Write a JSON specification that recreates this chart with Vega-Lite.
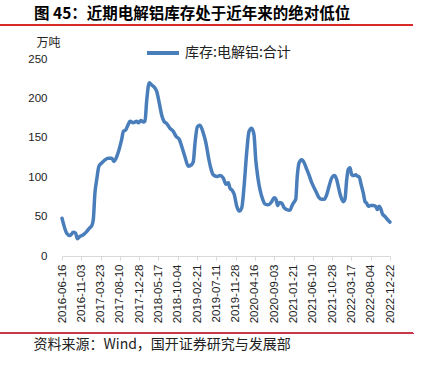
{
  "$schema": "https://vega.github.io/schema/vega-lite/v6.json",
  "autosize": "none",
  "width": 328,
  "height": 197,
  "padding": {"left": 62, "top": 59, "right": 32, "bottom": 111},
  "background": "white",
  "title": {
    "text": "图 45：近期电解铝库存处于近年来的绝对低位",
    "anchor": "start",
    "frame": "group",
    "dx": -28,
    "offset": 2,
    "font": "Noto Sans CJK SC",
    "fontSize": 15.5,
    "fontWeight": "bold",
    "color": "#000000"
  },
  "data": {
    "values": [
      {"date": "2016-06-16", "value": 48, "series": "库存:电解铝:合计"},
      {"date": "2016-07-20", "value": 29, "series": "库存:电解铝:合计"},
      {"date": "2016-08-13", "value": 26, "series": "库存:电解铝:合计"},
      {"date": "2016-09-06", "value": 30, "series": "库存:电解铝:合计"},
      {"date": "2016-09-23", "value": 29, "series": "库存:电解铝:合计"},
      {"date": "2016-10-05", "value": 22, "series": "库存:电解铝:合计"},
      {"date": "2016-10-25", "value": 25, "series": "库存:电解铝:合计"},
      {"date": "2016-11-18", "value": 27, "series": "库存:电解铝:合计"},
      {"date": "2016-12-12", "value": 31, "series": "库存:电解铝:合计"},
      {"date": "2017-01-05", "value": 36, "series": "库存:电解铝:合计"},
      {"date": "2017-01-17", "value": 38, "series": "库存:电解铝:合计"},
      {"date": "2017-01-29", "value": 46, "series": "库存:电解铝:合计"},
      {"date": "2017-02-10", "value": 80, "series": "库存:电解铝:合计"},
      {"date": "2017-02-23", "value": 97, "series": "库存:电解铝:合计"},
      {"date": "2017-03-11", "value": 114, "series": "库存:电解铝:合计"},
      {"date": "2017-03-31", "value": 118, "series": "库存:电解铝:合计"},
      {"date": "2017-04-24", "value": 122, "series": "库存:电解铝:合计"},
      {"date": "2017-05-18", "value": 124, "series": "库存:电解铝:合计"},
      {"date": "2017-06-12", "value": 124, "series": "库存:电解铝:合计"},
      {"date": "2017-06-28", "value": 120, "series": "库存:电解铝:合计"},
      {"date": "2017-07-18", "value": 126, "series": "库存:电解铝:合计"},
      {"date": "2017-08-04", "value": 135, "series": "库存:电解铝:合计"},
      {"date": "2017-08-23", "value": 148, "series": "库存:电解铝:合计"},
      {"date": "2017-09-04", "value": 158, "series": "库存:电解铝:合计"},
      {"date": "2017-09-21", "value": 160, "series": "库存:电解铝:合计"},
      {"date": "2017-10-10", "value": 167, "series": "库存:电解铝:合计"},
      {"date": "2017-10-22", "value": 171, "series": "库存:电解铝:合计"},
      {"date": "2017-11-15", "value": 169, "series": "库存:电解铝:合计"},
      {"date": "2017-12-10", "value": 171, "series": "库存:电解铝:合计"},
      {"date": "2017-12-22", "value": 169, "series": "库存:电解铝:合计"},
      {"date": "2018-01-10", "value": 172, "series": "库存:电解铝:合计"},
      {"date": "2018-01-27", "value": 170, "series": "库存:电解铝:合计"},
      {"date": "2018-02-08", "value": 171, "series": "库存:电解铝:合计"},
      {"date": "2018-02-21", "value": 198, "series": "库存:电解铝:合计"},
      {"date": "2018-03-11", "value": 220, "series": "库存:电解铝:合计"},
      {"date": "2018-03-29", "value": 217, "series": "库存:电解铝:合计"},
      {"date": "2018-04-22", "value": 213, "series": "库存:电解铝:合计"},
      {"date": "2018-05-04", "value": 209, "series": "库存:电解铝:合计"},
      {"date": "2018-05-23", "value": 194, "series": "库存:电解铝:合计"},
      {"date": "2018-06-09", "value": 179, "series": "库存:电解铝:合计"},
      {"date": "2018-06-26", "value": 171, "series": "库存:电解铝:合计"},
      {"date": "2018-07-16", "value": 168, "series": "库存:电解铝:合计"},
      {"date": "2018-08-09", "value": 162, "series": "库存:电解铝:合计"},
      {"date": "2018-09-02", "value": 158, "series": "库存:电解铝:合计"},
      {"date": "2018-09-21", "value": 152, "series": "库存:电解铝:合计"},
      {"date": "2018-10-15", "value": 148, "series": "库存:电解铝:合计"},
      {"date": "2018-11-02", "value": 139, "series": "库存:电解铝:合计"},
      {"date": "2018-11-25", "value": 126, "series": "库存:电解铝:合计"},
      {"date": "2018-12-19", "value": 114, "series": "库存:电解铝:合计"},
      {"date": "2019-01-13", "value": 116, "series": "库存:电解铝:合计"},
      {"date": "2019-01-25", "value": 120, "series": "库存:电解铝:合计"},
      {"date": "2019-02-06", "value": 143, "series": "库存:电解铝:合计"},
      {"date": "2019-02-23", "value": 164, "series": "库存:电解铝:合计"},
      {"date": "2019-03-14", "value": 166, "series": "库存:电解铝:合计"},
      {"date": "2019-04-07", "value": 156, "series": "库存:电解铝:合计"},
      {"date": "2019-04-27", "value": 143, "series": "库存:电解铝:合计"},
      {"date": "2019-05-14", "value": 126, "series": "库存:电解铝:合计"},
      {"date": "2019-05-31", "value": 112, "series": "库存:电解铝:合计"},
      {"date": "2019-06-19", "value": 103, "series": "库存:电解铝:合计"},
      {"date": "2019-07-14", "value": 101, "series": "库存:电解铝:合计"},
      {"date": "2019-08-06", "value": 102, "series": "库存:电解铝:合计"},
      {"date": "2019-08-30", "value": 99, "series": "库存:电解铝:合计"},
      {"date": "2019-09-19", "value": 91, "series": "库存:电解铝:合计"},
      {"date": "2019-10-06", "value": 93, "series": "库存:电解铝:合计"},
      {"date": "2019-10-18", "value": 86, "series": "库存:电解铝:合计"},
      {"date": "2019-11-04", "value": 83, "series": "库存:电解铝:合计"},
      {"date": "2019-11-18", "value": 78, "series": "库存:电解铝:合计"},
      {"date": "2019-12-06", "value": 63, "series": "库存:电解铝:合计"},
      {"date": "2019-12-22", "value": 57, "series": "库存:电解铝:合计"},
      {"date": "2020-01-11", "value": 61, "series": "库存:电解铝:合计"},
      {"date": "2020-01-28", "value": 88, "series": "库存:电解铝:合计"},
      {"date": "2020-02-16", "value": 131, "series": "库存:电解铝:合计"},
      {"date": "2020-03-04", "value": 158, "series": "库存:电解铝:合计"},
      {"date": "2020-03-23", "value": 162, "series": "库存:电解铝:合计"},
      {"date": "2020-04-09", "value": 154, "series": "库存:电解铝:合计"},
      {"date": "2020-04-22", "value": 122, "series": "库存:电解铝:合计"},
      {"date": "2020-05-06", "value": 101, "series": "库存:电解铝:合计"},
      {"date": "2020-05-23", "value": 84, "series": "库存:电解铝:合计"},
      {"date": "2020-06-11", "value": 72, "series": "库存:电解铝:合计"},
      {"date": "2020-06-28", "value": 66, "series": "库存:电解铝:合计"},
      {"date": "2020-07-22", "value": 65, "series": "库存:电解铝:合计"},
      {"date": "2020-08-16", "value": 69, "series": "库存:电解铝:合计"},
      {"date": "2020-09-03", "value": 74, "series": "库存:电解铝:合计"},
      {"date": "2020-09-16", "value": 72, "series": "库存:电解铝:合计"},
      {"date": "2020-09-28", "value": 64, "series": "库存:电解铝:合计"},
      {"date": "2020-10-10", "value": 68, "series": "库存:电解铝:合计"},
      {"date": "2020-10-27", "value": 67, "series": "库存:电解铝:合计"},
      {"date": "2020-11-15", "value": 61, "series": "库存:电解铝:合计"},
      {"date": "2020-12-02", "value": 59, "series": "库存:电解铝:合计"},
      {"date": "2020-12-26", "value": 58, "series": "库存:电解铝:合计"},
      {"date": "2021-01-08", "value": 63, "series": "库存:电解铝:合计"},
      {"date": "2021-01-19", "value": 67, "series": "库存:电解铝:合计"},
      {"date": "2021-02-06", "value": 72, "series": "库存:电解铝:合计"},
      {"date": "2021-02-17", "value": 101, "series": "库存:电解铝:合计"},
      {"date": "2021-03-02", "value": 118, "series": "库存:电解铝:合计"},
      {"date": "2021-03-21", "value": 122, "series": "库存:电解铝:合计"},
      {"date": "2021-04-09", "value": 118, "series": "库存:电解铝:合计"},
      {"date": "2021-04-27", "value": 110, "series": "库存:电解铝:合计"},
      {"date": "2021-05-13", "value": 103, "series": "库存:电解铝:合计"},
      {"date": "2021-06-02", "value": 93, "series": "库存:电解铝:合计"},
      {"date": "2021-06-21", "value": 86, "series": "库存:电解铝:合计"},
      {"date": "2021-07-08", "value": 80, "series": "库存:电解铝:合计"},
      {"date": "2021-07-25", "value": 74, "series": "库存:电解铝:合计"},
      {"date": "2021-08-13", "value": 72, "series": "库存:电解铝:合计"},
      {"date": "2021-09-01", "value": 72, "series": "库存:电解铝:合计"},
      {"date": "2021-09-19", "value": 78, "series": "库存:电解铝:合计"},
      {"date": "2021-10-05", "value": 88, "series": "库存:电解铝:合计"},
      {"date": "2021-10-25", "value": 99, "series": "库存:电解铝:合计"},
      {"date": "2021-11-13", "value": 102, "series": "库存:电解铝:合计"},
      {"date": "2021-11-30", "value": 97, "series": "库存:电解铝:合计"},
      {"date": "2021-12-12", "value": 88, "series": "库存:电解铝:合计"},
      {"date": "2021-12-29", "value": 76, "series": "库存:电解铝:合计"},
      {"date": "2022-01-17", "value": 69, "series": "库存:电解铝:合计"},
      {"date": "2022-01-29", "value": 72, "series": "库存:电解铝:合计"},
      {"date": "2022-02-11", "value": 97, "series": "库存:电解铝:合计"},
      {"date": "2022-02-22", "value": 110, "series": "库存:电解铝:合计"},
      {"date": "2022-03-07", "value": 112, "series": "库存:电解铝:合计"},
      {"date": "2022-03-19", "value": 103, "series": "库存:电解铝:合计"},
      {"date": "2022-03-31", "value": 102, "series": "库存:电解铝:合计"},
      {"date": "2022-04-17", "value": 103, "series": "库存:电解铝:合计"},
      {"date": "2022-05-02", "value": 101, "series": "库存:电解铝:合计"},
      {"date": "2022-05-11", "value": 101, "series": "库存:电解铝:合计"},
      {"date": "2022-05-26", "value": 91, "series": "库存:电解铝:合计"},
      {"date": "2022-06-11", "value": 80, "series": "库存:电解铝:合计"},
      {"date": "2022-06-24", "value": 69, "series": "库存:电解铝:合计"},
      {"date": "2022-07-06", "value": 67, "series": "库存:电解铝:合计"},
      {"date": "2022-07-17", "value": 63, "series": "库存:电解铝:合计"},
      {"date": "2022-08-04", "value": 64, "series": "库存:电解铝:合计"},
      {"date": "2022-08-23", "value": 64, "series": "库存:电解铝:合计"},
      {"date": "2022-09-09", "value": 63, "series": "库存:电解铝:合计"},
      {"date": "2022-09-21", "value": 59, "series": "库存:电解铝:合计"},
      {"date": "2022-10-03", "value": 63, "series": "库存:电解铝:合计"},
      {"date": "2022-10-18", "value": 59, "series": "库存:电解铝:合计"},
      {"date": "2022-10-27", "value": 54, "series": "库存:电解铝:合计"},
      {"date": "2022-11-16", "value": 50, "series": "库存:电解铝:合计"},
      {"date": "2022-12-05", "value": 46, "series": "库存:电解铝:合计"},
      {"date": "2022-12-22", "value": 43, "series": "库存:电解铝:合计"}
    ]
  },
  "resolve": {
    "scale": {"x": "independent", "y": "independent"},
    "axis": {"x": "independent", "y": "independent"}
  },
  "layer": [
    {
      "mark": {"type": "line", "strokeWidth": 3.5, "interpolate": "monotone", "strokeCap": "round", "strokeJoin": "round"},
      "encoding": {
        "x": {
          "field": "date",
          "type": "temporal",
          "scale": {"type": "utc", "domain": [{"year": 2016, "month": 6, "date": 16, "utc": true}, {"year": 2022, "month": 12, "date": 22, "utc": true}], "nice": false},
          "axis": {
            "values": [
              {"year": 2016, "month": 6, "date": 16, "utc": true},
              {"year": 2016, "month": 11, "date": 3, "utc": true},
              {"year": 2017, "month": 3, "date": 23, "utc": true},
              {"year": 2017, "month": 8, "date": 10, "utc": true},
              {"year": 2017, "month": 12, "date": 28, "utc": true},
              {"year": 2018, "month": 5, "date": 17, "utc": true},
              {"year": 2018, "month": 10, "date": 4, "utc": true},
              {"year": 2019, "month": 2, "date": 21, "utc": true},
              {"year": 2019, "month": 7, "date": 11, "utc": true},
              {"year": 2019, "month": 11, "date": 28, "utc": true},
              {"year": 2020, "month": 4, "date": 16, "utc": true},
              {"year": 2020, "month": 9, "date": 3, "utc": true},
              {"year": 2021, "month": 1, "date": 21, "utc": true},
              {"year": 2021, "month": 6, "date": 10, "utc": true},
              {"year": 2021, "month": 10, "date": 28, "utc": true},
              {"year": 2022, "month": 3, "date": 17, "utc": true},
              {"year": 2022, "month": 8, "date": 4, "utc": true},
              {"year": 2022, "month": 12, "date": 22, "utc": true}
            ],
            "format": "%Y-%m-%d",
            "labelAngle": -90,
            "labelAlign": "right",
            "labelBaseline": "middle",
            "labelFont": "Liberation Sans",
            "labelFontSize": 11.5,
            "labelColor": "#222222",
            "labelPadding": 4,
            "labelOverlap": false,
            "labelFlush": false,
            "labelBound": false,
            "tickSize": 4,
            "tickColor": "#d9d9d9",
            "domainColor": "#d9d9d9",
            "grid": false,
            "title": "资料来源：Wind，国开证券研究与发展部",
            "titleFont": "Noto Sans CJK SC",
            "titleFontSize": 14,
            "titleFontWeight": "normal",
            "titleColor": "#222222",
            "titleAnchor": "start",
            "titleAlign": "left",
            "titleBaseline": "middle",
            "titleX": -29,
            "titleY": 88
          }
        },
        "y": {
          "field": "value",
          "type": "quantitative",
          "scale": {"domain": [0, 250], "nice": false},
          "axis": {
            "values": [0, 50, 100, 150, 200, 250],
            "labelOverlap": false,
            "labelFlush": false,
            "grid": false,
            "domain": false,
            "ticks": false,
            "tickSize": 0,
            "labelPadding": 15,
            "labelFont": "Liberation Sans",
            "labelFontSize": 11.5,
            "labelColor": "#222222",
            "title": "万吨",
            "titleFont": "Noto Sans CJK SC",
            "titleFontSize": 12,
            "titleFontWeight": "normal",
            "titleColor": "#222222",
            "titleAngle": 0,
            "titleAlign": "left",
            "titleBaseline": "middle",
            "titleX": -26,
            "titleY": -17
          }
        },
        "color": {
          "field": "series",
          "type": "nominal",
          "scale": {"range": ["#4a7ebb"]},
          "legend": {
            "title": null,
            "orient": "none",
            "legendX": 83,
            "legendY": -24,
            "symbolType": "stroke",
            "symbolSize": 1024,
            "symbolStrokeWidth": 4,
            "labelFont": "Noto Sans CJK SC",
            "labelFontSize": 14,
            "labelColor": "#222222",
            "labelOffset": 4
          }
        }
      }
    },
    {
      "layer": [
        {
          "mark": {"type": "rule", "color": "#d92b2b", "strokeWidth": 1.2},
          "encoding": {
            "x": {"datum": {"year": 2015, "month": 3, "date": 24, "utc": true}, "type": "temporal", "axis": null, "scale": {"type": "utc", "domain": [{"year": 2016, "month": 6, "date": 16, "utc": true}, {"year": 2022, "month": 12, "date": 22, "utc": true}], "nice": false}},
            "x2": {"datum": {"year": 2023, "month": 6, "date": 7, "utc": true}},
            "y": {"datum": 293.4, "type": "quantitative", "axis": null, "scale": {"domain": [0, 250], "nice": false}}
          }
        },
        {
          "mark": {"type": "rule", "color": "#c8384a", "strokeWidth": 1.2},
          "encoding": {
            "x": {"datum": {"year": 2015, "month": 3, "date": 24, "utc": true}, "type": "temporal", "axis": null},
            "x2": {"datum": {"year": 2023, "month": 6, "date": 7, "utc": true}},
            "y": {"datum": -98.2, "type": "quantitative", "axis": null}
          }
        }
      ]
    }
  ],
  "config": {
    "view": {"stroke": null}
  }
}
